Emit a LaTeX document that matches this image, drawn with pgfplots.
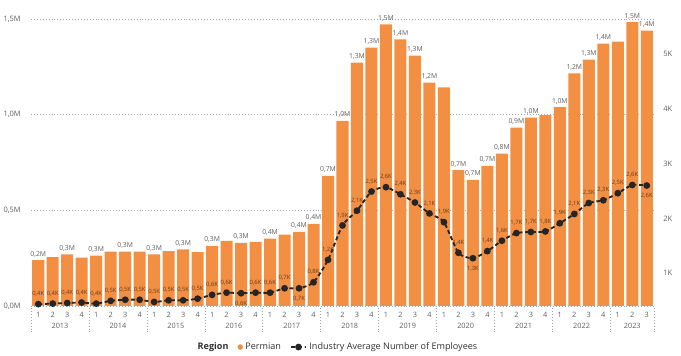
\documentclass[border=0pt]{standalone}
\usepackage{pgfplots}
\usepackage{pgfplotstable}
\pgfplotsset{compat=1.18}
\usepackage{fontspec}
\setmainfont{Open Sans}

\definecolor{perm}{RGB}{242,143,67}
\definecolor{lineblk}{RGB}{37,37,37}
\definecolor{ticktxt}{RGB}{96,94,92}
\definecolor{barlab}{RGB}{96,94,92}
\definecolor{linelab}{RGB}{105,60,25}
\definecolor{gridc}{RGB}{165,165,165}
\definecolor{legtxt}{RGB}{50,49,48}

\pgfplotsset{dashleg/.style={legend image code/.code={\draw[##1, mark repeat=2, mark phase=2] plot coordinates {(0pt,0pt)(5.5pt,0pt)(11pt,0pt)};}}}

\pgfplotstableread{
x bar blab emp elab ebel
0 0.240 0,2M 0.43 0,4K {}
1 0.255 {} 0.44 0,4K {}
2 0.270 0,3M 0.45 0,4K {}
3 0.253 {} 0.46 0,4K {}
4 0.263 0,3M 0.44 0,4K {}
5 0.284 {} 0.49 0,5K {}
6 0.284 0,3M 0.51 0,5K {}
7 0.284 {} 0.51 0,5K {}
8 0.270 0,3M 0.47 0,5K {}
9 0.287 {} 0.50 0,5K {}
10 0.296 0,3M 0.50 0,5K {}
11 0.282 {} 0.53 0,5K {}
12 0.314 0,3M 0.60 0,6K {}
13 0.340 {} 0.64 0,6K {}
14 0.330 0,3M 0.63 {} 0,6K
15 0.335 {} 0.64 0,6K {}
16 0.352 0,4M 0.64 0,6K {}
17 0.373 {} 0.72 0,7K {}
18 0.387 0,4M 0.72 {} 0,7K
19 0.429 0,4M 0.83 0,8K {}
20 0.680 0,7M 1.24 1,2K {}
21 0.967 1,0M 1.87 1,9K {}
22 1.272 1,3M 2.14 2,1K {}
23 1.350 1,3M 2.49 2,5K {}
24 1.472 1,5M 2.57 2,6K {}
25 1.394 1,4M 2.44 2,4K {}
26 1.308 1,3M 2.29 2,3K {}
27 1.167 1,2M 2.09 2,1K {}
28 1.143 {} 1.93 1,9K {}
29 0.710 0,7M 1.37 1,4K {}
30 0.659 0,7M 1.27 {} 1,3K
31 0.732 0,7M 1.40 1,4K {}
32 0.796 0,8M 1.59 1,6K {}
33 0.932 0,9M 1.73 1,7K {}
34 0.984 1,0M 1.75 1,7K {}
35 0.998 {} 1.76 1,8K {}
36 1.039 1,0M 1.91 1,9K {}
37 1.216 1,2M 2.08 2,1K {}
38 1.288 1,3M 2.28 2,3K {}
39 1.371 1,4M 2.33 2,3K {}
40 1.382 {} 2.46 2,5K {}
41 1.483 1,5M 2.61 2,6K {}
42 1.439 1,4M 2.60 {} 2,6K
}\datatable

\begin{document}
\begin{tikzpicture}
\useasboundingbox (0,0) rectangle (510.75pt,267pt);
\begin{axis}[
  at={(23.25pt,37.5pt)}, anchor=south west,
  scale only axis, width=467.25pt, height=215.25pt,
  xmin=-0.5, xmax=42.5, ymin=0, ymax=1.5,
  axis line style={draw=none}, major tick length=0pt,
  xtick={0,...,42},
  xticklabels={1,2,3,4,1,2,3,4,1,2,3,4,1,2,3,4,1,2,3,4,1,2,3,4,1,2,3,4,1,2,3,4,1,2,3,4,1,2,3,4,1,2,3},
  xticklabel style={font=\fontsize{5.5}{6}\selectfont, text=ticktxt, inner sep=0pt, anchor=north, yshift=-4.5pt},
  ytick={0,0.5,1,1.5},
  yticklabels={{0,0M},{0,5M},{1,0M},{1,5M}},
  yticklabel style={font=\fontsize{5.6}{6}\selectfont, text=ticktxt, inner sep=0pt, anchor=east, xshift=-7.5pt},
  ymajorgrids, grid style={gridc, dash pattern=on 0.6pt off 1.6pt, line width=0.5pt},
  clip=false,
]
\addplot[ybar, bar width=0.83, fill=perm, draw=none,
  nodes near coords, point meta=explicit symbolic,
  nodes near coords style={font=\fontsize{5.1}{6}\selectfont, text=barlab, inner sep=0pt, anchor=south, yshift=2.2pt}]
  table[x=x, y=bar, meta=blab] {\datatable};
\pgfplotsinvokeforeach{-0.5,3.5,7.5,11.5,15.5,19.5,23.5,27.5,31.5,35.5,39.5,42.5}{
  \draw[gridc, dash pattern=on 0.6pt off 1.6pt, line width=0.5pt] (axis cs:#1,0) ++(0pt,-1.5pt) -- ++(0pt,-18pt);
}
\node[font=\fontsize{5.5}{6}\selectfont, text=ticktxt, inner sep=0pt, anchor=north] at ([yshift=-12.5pt]axis cs:1.5,0) {2013};
\node[font=\fontsize{5.5}{6}\selectfont, text=ticktxt, inner sep=0pt, anchor=north] at ([yshift=-12.5pt]axis cs:5.5,0) {2014};
\node[font=\fontsize{5.5}{6}\selectfont, text=ticktxt, inner sep=0pt, anchor=north] at ([yshift=-12.5pt]axis cs:9.5,0) {2015};
\node[font=\fontsize{5.5}{6}\selectfont, text=ticktxt, inner sep=0pt, anchor=north] at ([yshift=-12.5pt]axis cs:13.5,0) {2016};
\node[font=\fontsize{5.5}{6}\selectfont, text=ticktxt, inner sep=0pt, anchor=north] at ([yshift=-12.5pt]axis cs:17.5,0) {2017};
\node[font=\fontsize{5.5}{6}\selectfont, text=ticktxt, inner sep=0pt, anchor=north] at ([yshift=-12.5pt]axis cs:21.5,0) {2018};
\node[font=\fontsize{5.5}{6}\selectfont, text=ticktxt, inner sep=0pt, anchor=north] at ([yshift=-12.5pt]axis cs:25.5,0) {2019};
\node[font=\fontsize{5.5}{6}\selectfont, text=ticktxt, inner sep=0pt, anchor=north] at ([yshift=-12.5pt]axis cs:29.5,0) {2020};
\node[font=\fontsize{5.5}{6}\selectfont, text=ticktxt, inner sep=0pt, anchor=north] at ([yshift=-12.5pt]axis cs:33.5,0) {2021};
\node[font=\fontsize{5.5}{6}\selectfont, text=ticktxt, inner sep=0pt, anchor=north] at ([yshift=-12.5pt]axis cs:37.5,0) {2022};
\node[font=\fontsize{5.5}{6}\selectfont, text=ticktxt, inner sep=0pt, anchor=north] at ([yshift=-12.5pt]axis cs:41,0) {2023};
\end{axis}

\begin{axis}[
  at={(23.25pt,37.5pt)}, anchor=south west,
  scale only axis, width=467.25pt, height=215.25pt,
  xmin=-0.5, xmax=42.5, ymin=0.396, ymax=5.647,
  axis x line=none, axis y line*=right,
  axis line style={draw=none}, major tick length=0pt,
  ytick={1,2,3,4,5}, yticklabels={1K,2K,3K,4K,5K},
  yticklabel style={font=\fontsize{5.6}{6}\selectfont, text=ticktxt, inner sep=0pt, anchor=west, xshift=6.75pt},
  clip=false,
  legend columns=-1,
  legend style={at={(0.492,-0.143)}, anchor=center, draw=none, fill=none,
    font=\fontsize{6.8}{8}\selectfont, text=legtxt, inner sep=0pt,
    /tikz/every even column/.append style={column sep=5pt}},
]
\addlegendimage{empty legend}
\addlegendentry{\textbf{Region}}
\addlegendimage{only marks, mark=*, mark size=1.8pt, perm, mark options={draw=perm, fill=perm}}
\addlegendentry{Permian}
\addplot[lineblk, line width=1.4pt, dash pattern=on 3pt off 2pt, smooth, tension=0.4,
  mark=*, mark size=1.8pt, mark options={solid, fill=lineblk, draw=lineblk}, dashleg]
  table[x=x, y=emp] {\datatable};
\addlegendentry{Industry Average Number of Employees}
\addplot[draw=none, mark=none, forget plot,
  nodes near coords, point meta=explicit symbolic,
  nodes near coords style={font=\fontsize{4.4}{5}\selectfont, text=linelab, inner sep=0pt, anchor=south, yshift=5.5pt}]
  table[x=x, y=emp, meta=elab] {\datatable};
\addplot[draw=none, mark=none, forget plot,
  nodes near coords, point meta=explicit symbolic,
  nodes near coords style={font=\fontsize{4.4}{5}\selectfont, text=linelab, inner sep=0pt, anchor=north, yshift=-5.5pt}]
  table[x=x, y=emp, meta=ebel] {\datatable};
\end{axis}
\end{tikzpicture}
\end{document}
